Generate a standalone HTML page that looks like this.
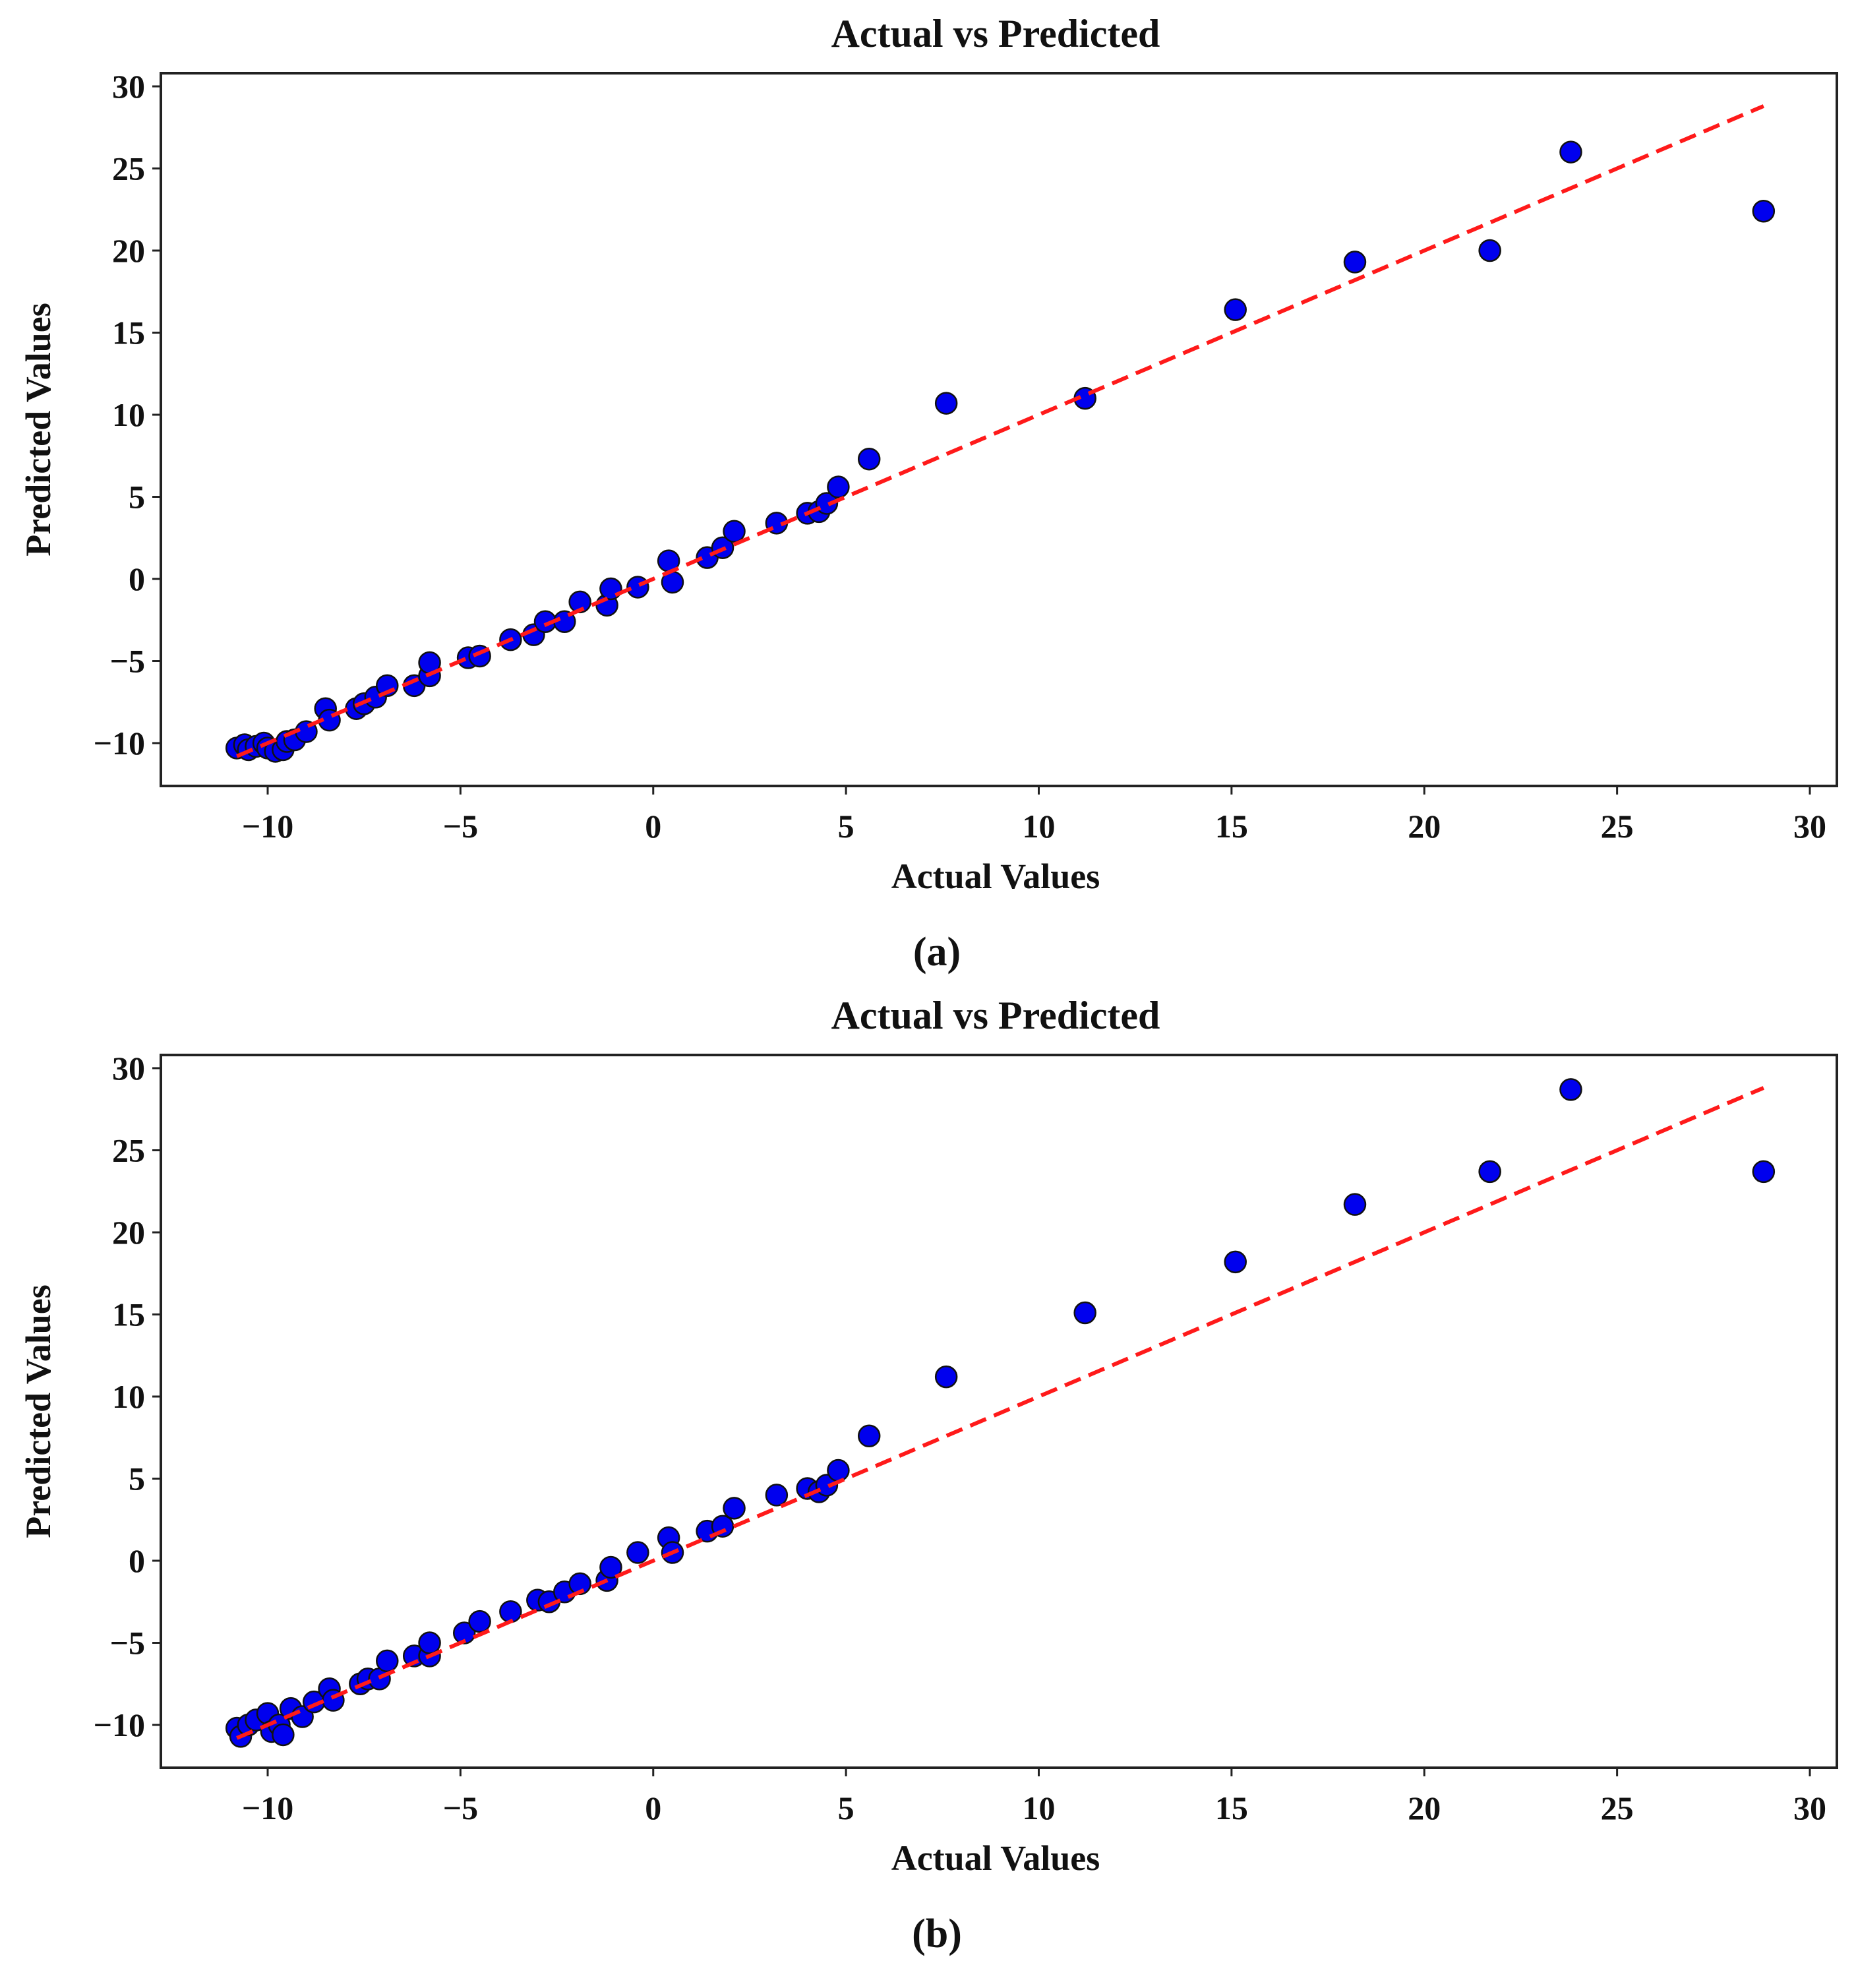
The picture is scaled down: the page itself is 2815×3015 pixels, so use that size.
<!DOCTYPE html>
<html><head><meta charset="utf-8"><style>
html,body{margin:0;padding:0;background:#fff}
svg{display:block}
text{font-family:"Liberation Serif",serif;font-weight:bold;fill:#111}
</style></head><body>
<svg id="fig" width="2815" height="3015" viewBox="0 0 2815 3015"></svg>
<script>
const xTicks=[-10,-5,0,5,10,15,20,25,30];
const yTicks=[-10,-5,0,5,10,15,20,25,30];
const xTickLabels=["\u221210","\u22125","0","5","10","15","20","25","30"];
const yTickLabels=["\u221210","\u22125","0","5","10","15","20","25","30"];
const actualA=[-10.8,-10.6,-10.5,-10.3,-10.1,-10.0,-9.8,-9.6,-9.5,-9.3,-9.0,-8.5,-8.4,-7.7,-7.5,-7.2,-6.9,-6.2,-5.8,-5.8,-4.8,-4.5,-3.7,-3.1,-2.8,-2.3,-1.9,-1.2,-1.1,-0.4,0.4,0.5,1.4,1.8,2.1,3.2,4.0,4.3,4.5,4.8,5.6,7.6,11.2,15.1,18.2,21.7,23.8,28.8];
const predA=[-10.3,-10.1,-10.4,-10.2,-10.0,-10.3,-10.5,-10.4,-9.9,-9.8,-9.3,-7.9,-8.6,-7.9,-7.6,-7.2,-6.5,-6.5,-5.9,-5.1,-4.8,-4.7,-3.7,-3.4,-2.6,-2.6,-1.4,-1.6,-0.6,-0.5,1.1,-0.2,1.3,1.9,2.9,3.4,4.0,4.1,4.6,5.6,7.3,10.7,11.0,16.4,19.3,20.0,26.0,22.4];
const actualB=[-10.8,-10.7,-10.5,-10.3,-10.0,-9.9,-9.7,-9.6,-9.4,-9.1,-8.8,-8.4,-8.3,-7.6,-7.4,-7.1,-6.9,-6.2,-5.8,-5.8,-4.9,-4.5,-3.7,-3.0,-2.7,-2.3,-1.9,-1.2,-1.1,-0.4,0.4,0.5,1.4,1.8,2.1,3.2,4.0,4.3,4.5,4.8,5.6,7.6,11.2,15.1,18.2,21.7,23.8,28.8];
const predB=[-10.2,-10.7,-10.0,-9.7,-9.3,-10.4,-10.0,-10.6,-9.0,-9.5,-8.6,-7.8,-8.5,-7.5,-7.2,-7.2,-6.1,-5.8,-5.8,-5.0,-4.4,-3.7,-3.1,-2.4,-2.5,-1.9,-1.4,-1.2,-0.4,0.5,1.4,0.5,1.8,2.1,3.2,4.0,4.4,4.2,4.6,5.5,7.6,11.2,15.1,18.2,21.7,23.7,28.7,23.7];
const lineRange=[-10.8,28.8];

const NS="http://www.w3.org/2000/svg";
const svg=document.getElementById('fig');
function mk(tag,attrs,parent){const e=document.createElementNS(NS,tag);for(const k in attrs)e.setAttribute(k,attrs[k]);(parent||svg).appendChild(e);return e;}

function panel(id,top,actual,pred,letter){
  const L=244,R=2786,T=top,B=top+1081;
  const y30=top+20,ym10=top+1016;
  const sx=v=>406+(v+10)*(2745-406)/40;
  const sy=v=>ym10-(v+10)*(ym10-y30)/40;
  const g=mk('g',{});
  
  
  const t=mk('text',{x:1510,y:top-40,'font-size':60,'text-anchor':'middle'},g);
  t.textContent='Actual vs Predicted';
  
  
  const box=mk('rect',{x:L,y:T,width:R-L,height:B-T,fill:'#fff',stroke:'#222','stroke-width':4},g);
  
  
  xTicks.forEach((v,i)=>{
    const x=sx(v);
    mk('line',{x1:x,y1:B,x2:x,y2:B+13,stroke:'#222','stroke-width':3},g);
    const tl=mk('text',{x:x,y:B+78,'font-size':50,'text-anchor':'middle'},g);
    tl.textContent=xTickLabels[i];
    
    
  });
  yTicks.forEach((v,i)=>{
    const y=sy(v);
    mk('line',{x1:L-13,y1:y,x2:L,y2:y,stroke:'#222','stroke-width':3},g);
    const tl=mk('text',{x:L-24,y:y+17,'font-size':50,'text-anchor':'end'},g);
    tl.textContent=yTickLabels[i];
    
    
  });
  const xl=mk('text',{x:1510,y:B+155,'font-size':54,'text-anchor':'middle'},g);
  xl.textContent='Actual Values';
  
  
  const yl=mk('text',{x:0,y:0,'font-size':54,'text-anchor':'middle',transform:`translate(76,${(T+B)/2}) rotate(-90)`},g);
  yl.textContent='Predicted Values';
  
  
  actual.forEach((a,i)=>{
    const c=mk('circle',{cx:sx(a),cy:sy(pred[i]),r:16,fill:'#0000ee',stroke:'#111','stroke-width':2.5},g);
    
    
  });
  const ln=mk('line',{x1:sx(lineRange[0]),y1:sy(lineRange[0]),x2:sx(lineRange[1]),y2:sy(lineRange[1]),stroke:'#ff1a1a','stroke-width':6,'stroke-dasharray':'26 13'},g);
  
  
  const lt=mk('text',{x:1421,y:B+272,'font-size':62,'text-anchor':'middle'},g);
  lt.textContent='('+letter+')';
  
  
}
panel('a',111,actualA,predA,'a');
panel('b',1600,actualB,predB,'b');
</script>
</body></html>
